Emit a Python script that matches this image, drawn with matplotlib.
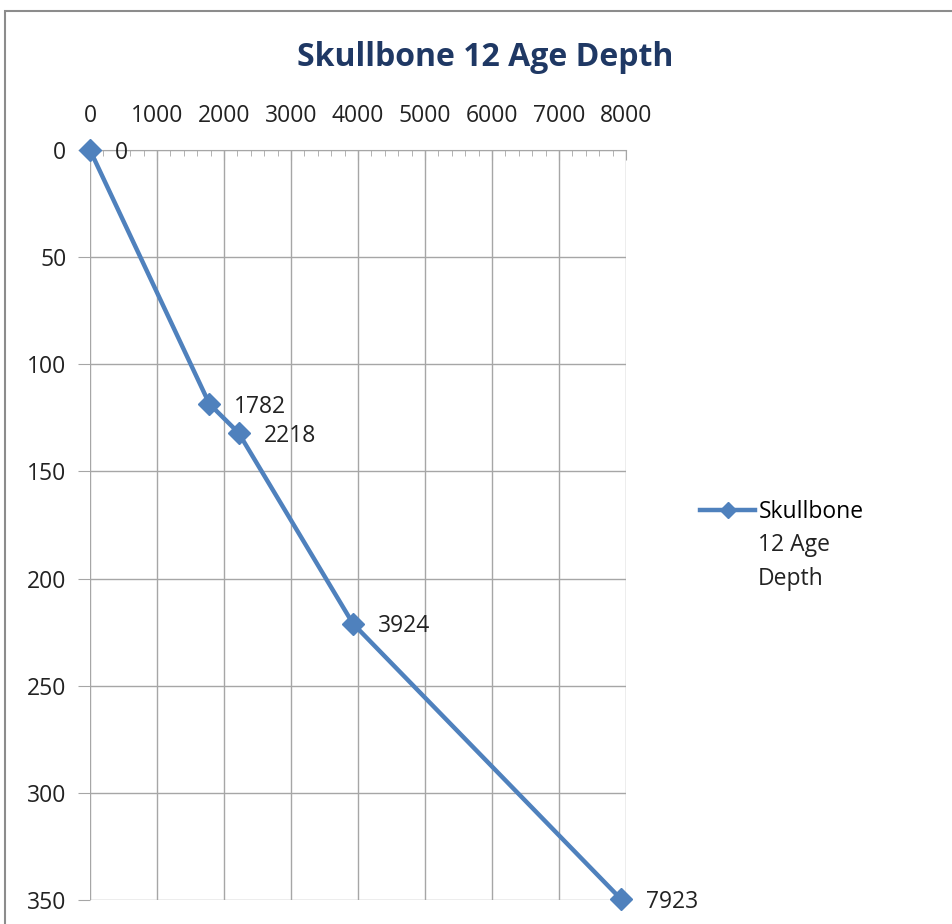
import matplotlib.pyplot as plt
from matplotlib.patches import Rectangle
from matplotlib.ticker import MultipleLocator

ages = [0, 1782, 2218, 3924, 7923]
depths = [0, 118.5, 132, 221, 349.5]
series_name = "Skullbone 12 Age Depth"
legend_lines = ["Skullbone", "12 Age", "Depth"]

BLUE = "#4F81BD"
GRID = "#A6A6A6"
FS = 16.5
plt.rcParams['font.family'] = ['Open Sans', 'DejaVu Sans']

fig = plt.figure(figsize=(9.52, 9.24), dpi=100)
fig.patches.append(Rectangle((5 / 952, -0.01), 1.0, 1 - 11 / 924 + 0.01, transform=fig.transFigure,
                             fill=False, edgecolor="#8C8C8C", linewidth=1.5))
ax = fig.add_axes([90 / 952, 1 - 900 / 924, (626 - 90) / 952, (900 - 150) / 924])

line, = ax.plot(ages, depths, color=BLUE, linewidth=3.2, marker="D", markersize=11,
                zorder=3, clip_on=False)
for a, d in zip(ages, depths):
    ax.annotate(str(a), (a, d), xytext=(18, -2), textcoords="offset points",
                ha="left", va="center", fontsize=FS, color="#222222")

ax.set_xlim(0, 8000)
ax.set_ylim(350, 0)
ax.xaxis.tick_top()
ax.xaxis.set_major_locator(MultipleLocator(1000))
ax.xaxis.set_minor_locator(MultipleLocator(200))
ax.yaxis.set_major_locator(MultipleLocator(50))
ax.grid(True, which="major", color=GRID, linewidth=1.0)
ax.set_axisbelow(True)
ax.tick_params(axis="x", which="major", direction="in", length=7, color=GRID,
               labelsize=FS, pad=16, labelcolor="#222222")
ax.tick_params(axis="x", which="minor", direction="in", length=4, color=GRID)
ax.tick_params(axis="y", which="major", direction="out", length=9, color=GRID,
               labelsize=FS, pad=8, labelcolor="#222222")
for s in ["left", "right", "bottom"]:
    ax.spines[s].set_visible(False)
ax.spines["top"].set_color(GRID)

fig.text(485 / 952, 1 - 57 / 924, series_name, ha="center", va="center",
         fontsize=23, fontweight="bold", color="#1F3864")

handle = plt.Line2D([], [], color=BLUE, linewidth=3.2, marker="D", markersize=8)
fig.legend(handles=[handle], labels=[legend_lines[0]], loc="center left",
           bbox_to_anchor=(700 / 952, 1 - 512 / 924), frameon=False, fontsize=FS,
           handlelength=2.4, handletextpad=0.15, borderpad=0, borderaxespad=0)
fig.text(758 / 952, 1 - 533 / 924, "\n".join(legend_lines[1:]), ha="left", va="top",
         fontsize=FS, color="#222222", linespacing=1.55)

fig.savefig("out.png", dpi=100)
